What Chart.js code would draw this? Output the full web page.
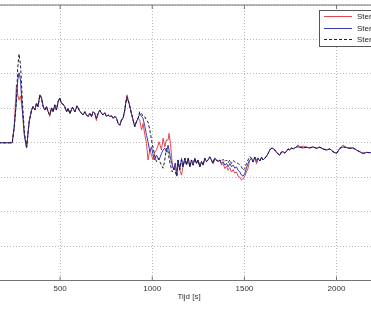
<!DOCTYPE html>
<html><head><meta charset="utf-8">
<script src="https://cdn.jsdelivr.net/npm/chart.js@4"></script>
<style>
html,body{margin:0;padding:0;background:#fff;overflow:hidden;width:371px;height:312px;}
#wrap{position:absolute;left:-32px;top:0;width:443px;height:312px;}
</style></head><body>
<div id="wrap"><canvas id="c"></canvas></div>
<script>
const T = [0,240,251,263,270,277,285,295,306,318,
332,345,353,363,372,380,390,399,408,417,
426,435,444,453,462,471,480,489,498,507,
516,525,535,543,553,567,580,592,603,616,
625,634,643,652,661,670,679,688,697,706,
715,725,733,742,752,760,770,779,788,797,
806,815,824,833,842,851,856,863,874,887,
896,905,914,923,932,942,950,960,969,977,
987,996,1005,1014,1023,1032,1037,1050,1059,1068,
1077,1086,1091,1099,1109,1117,1125,1133,1140,1149,
1159,1167,1177,1186,1195,1204,1213,1222,1231,1240,
1249,1258,1267,1276,1285,1294,1303,1312,1321,1330,
1339,1349,1357,1366,1376,1384,1394,1403,1412,1421,
1430,1439,1448,1457,1466,1475,1484,1493,1502,1511,
1520,1529,1539,1547,1557,1566,1574,1584,1593,1602,
1611,1620,1629,1638,1647,1656,1665,1674,1683,1692,
1701,1710,1719,1729,1737,1746,1756,1764,1774,1783,
1791,1801,1819,1837,1855,1873,1891,1909,1927,1946,
1964,1981,2000,2018,2036,2054,2072,2090,2108,2126,
2144,2163,2186,2235];

const RED = [0,0,0.51,1.68,1.39,1.24,1.36,0.95,0.22,-0.15,
0.61,0.95,1.05,0.95,1.15,1.05,1.39,1.30,1.05,0.95,
1.05,0.90,0.76,1.01,0.90,1.10,0.95,1.19,1.30,1.15,
1.12,1.05,0.90,1.00,0.85,1.03,0.90,1.07,0.95,0.85,
0.81,0.90,0.81,0.76,0.85,0.76,0.90,0.85,0.64,0.85,
0.95,0.85,0.81,0.87,0.76,0.81,0.76,0.78,0.71,0.76,
0.71,0.56,0.51,0.66,0.72,0.95,1.15,1.39,1.15,0.85,
0.66,0.47,0.61,0.71,0.66,0.37,0.56,0.22,-0.02,-0.50,
-0.21,-0.36,-0.50,-0.27,-0.21,-0.07,0.03,-0.21,0.13,-0.12,
0.08,0.08,0.27,-0.02,-0.65,-0.79,-0.59,-0.94,-0.50,-0.79,
-0.94,-0.70,-0.45,-0.64,-0.45,-0.70,-0.50,-0.65,-0.45,-0.60,
-0.50,-0.70,-0.55,-0.65,-0.45,-0.55,-0.50,-0.41,-0.50,-0.60,
-0.45,-0.50,-0.55,-0.50,-0.65,-0.60,-0.75,-0.68,-0.80,-0.72,
-0.85,-0.78,-0.88,-0.85,-0.97,-1.00,-1.08,-1.05,-0.97,-0.85,
-0.74,-0.50,-0.45,-0.56,-0.42,-0.62,-0.45,-0.53,-0.42,-0.50,
-0.45,-0.39,-0.31,-0.21,-0.16,-0.16,-0.21,-0.27,-0.33,-0.36,
-0.27,-0.26,-0.30,-0.24,-0.18,-0.21,-0.15,-0.18,-0.15,-0.12,
-0.06,-0.13,-0.10,-0.13,-0.15,-0.12,-0.16,-0.13,-0.18,-0.21,
-0.18,-0.26,-0.31,-0.16,-0.07,-0.14,-0.16,-0.15,-0.21,-0.26,
-0.31,-0.28,-0.29,-0.28];

const BLUE = [0,0,0.45,1.24,1.82,2.03,1.82,0.95,0.22,-0.15,
0.61,0.95,1.05,0.95,1.15,1.05,1.39,1.30,1.05,0.95,
1.05,0.90,0.81,1.01,0.90,1.10,0.95,1.19,1.30,1.15,
1.12,1.05,0.90,1.00,0.85,1.03,0.90,1.07,0.95,0.85,
0.81,0.90,0.81,0.76,0.85,0.76,0.90,0.85,0.71,0.85,
0.95,0.85,0.81,0.87,0.76,0.81,0.76,0.78,0.71,0.76,
0.71,0.56,0.51,0.66,0.72,0.95,1.15,1.30,1.15,0.85,
0.66,0.47,0.61,0.71,0.85,0.76,0.71,0.47,0.22,0.03,
-0.26,-0.12,-0.36,-0.50,-0.36,-0.45,-0.50,-0.31,-0.21,-0.16,
-0.27,-0.07,-0.21,-0.45,-0.65,-0.79,-0.59,-0.97,-0.50,-0.79,
-0.45,-0.70,-0.45,-0.64,-0.45,-0.70,-0.50,-0.65,-0.45,-0.60,
-0.50,-0.70,-0.55,-0.65,-0.45,-0.55,-0.50,-0.41,-0.50,-0.60,
-0.45,-0.50,-0.55,-0.50,-0.60,-0.55,-0.65,-0.60,-0.70,-0.60,
-0.70,-0.65,-0.74,-0.70,-0.80,-0.84,-0.94,-0.97,-0.90,-0.74,
-0.60,-0.50,-0.45,-0.56,-0.42,-0.56,-0.45,-0.53,-0.42,-0.50,
-0.45,-0.39,-0.31,-0.21,-0.16,-0.16,-0.21,-0.27,-0.33,-0.36,
-0.27,-0.26,-0.30,-0.24,-0.18,-0.21,-0.15,-0.18,-0.15,-0.12,
-0.12,-0.13,-0.15,-0.13,-0.15,-0.12,-0.16,-0.13,-0.18,-0.21,
-0.18,-0.26,-0.31,-0.16,-0.12,-0.14,-0.16,-0.15,-0.21,-0.26,
-0.31,-0.28,-0.29,-0.28];

const DASH = [0,0,0.45,1.24,2.17,2.58,2.26,1.24,0.30,-0.12,
0.61,0.95,1.05,0.95,1.15,1.05,1.39,1.30,1.05,0.95,
1.05,0.90,0.81,1.01,0.90,1.10,0.95,1.19,1.30,1.15,
1.12,1.05,0.90,1.00,0.85,1.03,0.90,1.07,0.95,0.85,
0.81,0.90,0.81,0.76,0.85,0.76,0.90,0.85,0.71,0.85,
0.95,0.85,0.81,0.87,0.76,0.81,0.76,0.78,0.71,0.76,
0.71,0.56,0.51,0.66,0.72,0.95,1.15,1.34,1.15,0.85,
0.66,0.47,0.61,0.71,0.90,0.85,0.76,0.75,0.66,0.60,
0.37,0.08,-0.16,-0.39,-0.55,-0.45,-0.50,-0.65,-0.74,-0.50,
-0.16,-0.27,-0.45,-0.65,-0.85,-0.74,-0.85,-0.97,-0.50,-0.79,
-0.50,-0.70,-0.45,-0.64,-0.45,-0.70,-0.50,-0.65,-0.45,-0.60,
-0.50,-0.70,-0.55,-0.65,-0.45,-0.55,-0.50,-0.41,-0.50,-0.60,
-0.45,-0.50,-0.55,-0.50,-0.55,-0.48,-0.55,-0.50,-0.58,-0.50,
-0.60,-0.52,-0.55,-0.58,-0.60,-0.65,-0.70,-0.80,-0.75,-0.60,
-0.50,-0.40,-0.45,-0.56,-0.42,-0.50,-0.45,-0.53,-0.42,-0.50,
-0.45,-0.39,-0.31,-0.21,-0.16,-0.16,-0.21,-0.27,-0.33,-0.36,
-0.27,-0.26,-0.30,-0.24,-0.18,-0.21,-0.15,-0.18,-0.15,-0.12,
-0.12,-0.13,-0.15,-0.13,-0.15,-0.12,-0.16,-0.13,-0.18,-0.21,
-0.18,-0.26,-0.31,-0.16,-0.12,-0.14,-0.16,-0.15,-0.21,-0.26,
-0.31,-0.28,-0.29,-0.28];

const SERIES_LABELS = ['Sterkte 1', 'Sterkte 2', 'Sterkte 3'];
const X_TITLE = 'Tijd [s]';
const X_TICKS = [500, 1000, 1500, 2000];
const X_MIN = 0, X_MAX = 2400;
const Y_TICKS = [-4, -3, -2, -1, 0, 1, 2, 3, 4];

const pts = arr => T.map((t, i) => ({x: t, y: arr[i]}));
const FONT = '"Liberation Sans", Arial, sans-serif';

const boxPlugin = {
  id: 'boxPlugin',
  afterDatasetsDraw(chart) {
    const {ctx, chartArea: a} = chart;
    ctx.save();
    ctx.strokeStyle = '#747474';
    ctx.lineWidth = 1;
    ctx.strokeRect(a.left, a.top, a.right - a.left, a.bottom - a.top);
    const xs = chart.scales.x;
    xs.ticks.forEach(tk => {
      const px = xs.getPixelForValue(tk.value);
      ctx.beginPath();
      ctx.moveTo(px, a.bottom); ctx.lineTo(px, a.bottom - 4);
      ctx.moveTo(px, a.top); ctx.lineTo(px, a.top + 4);
      ctx.stroke();
    });
    ctx.restore();
  },
  afterDraw(chart) {
    const {ctx, chartArea: a} = chart;
    const right = a.right - 5.2, left = right - 86, top = a.top + 5, h = 36;
    ctx.save();
    ctx.fillStyle = '#fff';
    ctx.fillRect(left, top, right - left, h);
    ctx.strokeStyle = '#555';
    ctx.lineWidth = 1;
    ctx.strokeRect(Math.round(left) + 0.5, Math.round(top) + 0.5, right - left, h);
    chart.data.datasets.forEach((ds, i) => {
      const y = Math.round(top + 6 + i * 11.5) + 0.5;
      ctx.strokeStyle = ds.borderColor;
      ctx.setLineDash(ds.borderDash || []);
      ctx.beginPath();
      ctx.moveTo(left + 5, y); ctx.lineTo(left + 33, y);
      ctx.stroke();
      ctx.setLineDash([]);
      ctx.fillStyle = '#222';
      ctx.font = '8px ' + FONT;
      ctx.textBaseline = 'middle';
      ctx.fillText(ds.label, left + 38, y);
    });
    ctx.restore();
  }
};

new Chart(document.getElementById('c'), {
  type: 'line',
  data: {
    datasets: [
      {label: SERIES_LABELS[0], data: pts(RED), borderColor: '#e4484e', borderWidth: 1, order: 3},
      {label: SERIES_LABELS[1], data: pts(BLUE), borderColor: '#3a3ab4', borderWidth: 1, order: 2},
      {label: SERIES_LABELS[2], data: pts(DASH), borderColor: '#1e1e2e', borderWidth: 1, borderDash: [3, 2], order: 1}
    ]
  },
  options: {
    responsive: true,
    maintainAspectRatio: false,
    animation: false,
    devicePixelRatio: 1,
    elements: {point: {radius: 0}, line: {tension: 0}},
    layout: {padding: {top: 5, left: 0, right: 0.8, bottom: 10.2}},
    plugins: {legend: {display: false}, tooltip: {enabled: false}},
    scales: {
      x: {
        type: 'linear', min: X_MIN, max: X_MAX,
        afterBuildTicks: s => { s.ticks = X_TICKS.map(v => ({value: v})); },
        ticks: {autoSkip: false, maxRotation: 0, padding: 3,
          color: '#333', font: {family: FONT, size: 8},
          callback: v => String(v)},
        grid: {color: '#b8b8b8', lineWidth: 1, drawTicks: false},
        border: {display: false, dash: [1, 2]},
        title: {display: true, text: X_TITLE, color: '#333', font: {family: FONT, size: 8}, padding: 0},
        afterFit: s => { s.height = 21.3; s.paddingLeft = 0; s.paddingRight = 0; }
      },
      y: {
        min: Y_TICKS[0], max: Y_TICKS[Y_TICKS.length - 1],
        afterBuildTicks: s => { s.ticks = Y_TICKS.map(v => ({value: v})); },
        ticks: {display: false},
        grid: {color: '#b8b8b8', lineWidth: 1, drawTicks: false},
        border: {display: false, dash: [1, 2]},
        afterFit: s => { s.width = 0; }
      }
    }
  },
  plugins: [boxPlugin]
});
</script>
</body></html>
